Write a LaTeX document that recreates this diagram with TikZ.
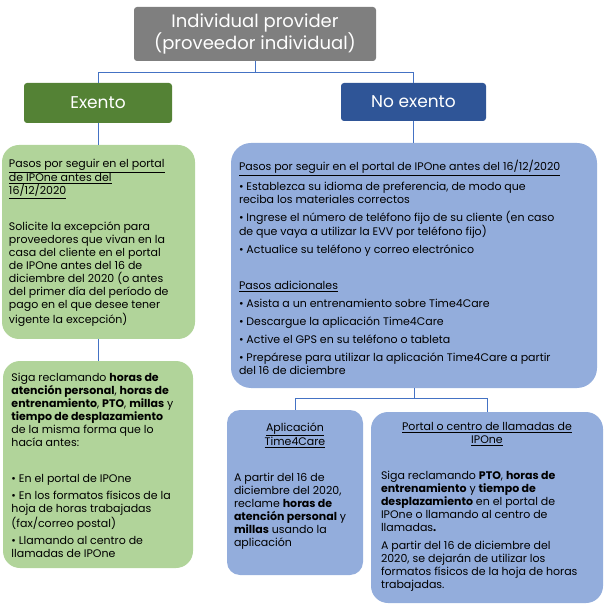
\documentclass[tikz,border=0pt]{standalone}
\usepackage{fontspec}
\setmainfont{Poppins}
\usepackage{xcolor}
\usepackage{tikz}
\definecolor{gris}{HTML}{7F7F7F}
\definecolor{verdeosc}{HTML}{548235}
\definecolor{azulosc}{HTML}{2F5597}
\definecolor{verdeclaro}{HTML}{B1D49A}
\definecolor{azulclaro}{HTML}{93ADDC}
\definecolor{lineas}{HTML}{4472C4}

\begin{document}
\begin{tikzpicture}[
    x=1pt, y=-1pt,
    every node/.style={inner sep=0pt, outer sep=0pt}
  ]
  \tikzset{
    cabeza/.style={fill=gris, text=white, rounded corners=3pt, align=center,
      minimum width=242pt, minimum height=54pt, font=\fontsize{18}{22}\selectfont},
    rama/.style={text=white, rounded corners=3pt, font=\fontsize{17}{20}\selectfont},
    caja/.style={anchor=north west, rounded corners=17pt, inner xsep=7pt, inner ysep=14pt,
      font=\fontsize{11}{13}\selectfont},
    verde/.style={fill=verdeclaro},
    azul/.style={fill=azulclaro},
    linea/.style={draw=lineas, line width=0.9pt}
  }
  \useasboundingbox (0,0) rectangle (610,609);

  % cabeza y ramas
  \node[cabeza] (proveedor) at (255,34) {Individual provider\\(proveedor individual)};
  \node[rama, fill=verdeosc, minimum width=148pt, minimum height=40pt] (exento) at (98,103) {Exento};
  \node[rama, fill=azulosc, minimum width=145pt, minimum height=38pt] (noexento) at (413.5,102) {No exento};

  % exento
  \node[caja, verde, inner ysep=14.5pt] (pasosex) at (2,145) {\parbox[c][165pt][t]{179pt}{%
    \underline{Pasos por seguir en el portal}\\
    \underline{de IPOne antes del}\\
    \underline{16/12/2020}\\[23pt]
    Solicite la excepción para\\
    proveedores que vivan en la\\
    casa del cliente en el portal\\
    de IPOne antes del 16 de\\
    diciembre del 2020 (o antes\\
    del primer día del período de\\
    pago en el que desee tener\\
    vigente la excepción)}};
  \node[caja, verde, inner xsep=8.5pt, inner ysep=12.5pt] (sigaex) at (3,361) {\parbox[c][182pt][t]{173pt}{%
    Siga reclamando \textbf{horas de}\\
    \textbf{atención personal}, \textbf{horas de}\\
    \textbf{entrenamiento}, \textbf{PTO}, \textbf{millas} y\\
    \textbf{tiempo de desplazamiento}\\
    de la misma forma que lo\\
    hacía antes:\\[23pt]
    \textbullet{} En el portal de IPOne\\[4pt]
    \textbullet{} En los formatos físicos de la\\
    hoja de horas trabajadas\\
    (fax/correo postal)\\[4pt]
    \textbullet{} Llamando al centro de\\
    llamadas de IPOne}};

  % no exento
  \node[caja, azul, rounded corners=20pt, inner xsep=8pt, inner ysep=17.5pt] (pasosno) at (231,143) {\parbox[c][210pt][t]{350pt}{%
    \underline{Pasos por seguir en el portal de IPOne antes del 16/12/2020}\\[5pt]
    \textbullet{} Establezca su idioma de preferencia, de modo que\\
    reciba los materiales correctos\\[5pt]
    \textbullet{} Ingrese el número de teléfono fijo de su cliente (en caso\\
    de que vaya a utilizar la EVV por teléfono fijo)\\[5pt]
    \textbullet{} Actualice su teléfono y correo electrónico\\[23pt]
    \underline{Pasos adicionales}\\[5pt]
    \textbullet{} Asista a un entrenamiento sobre Time4Care\\[5pt]
    \textbullet{} Descargue la aplicación Time4Care\\[5pt]
    \textbullet{} Active el GPS en su teléfono o tableta\\[5pt]
    \textbullet{} Prepárese para utilizar la aplicación Time4Care a partir\\
    del 16 de diciembre}};
  \node[caja, azul, rounded corners=13pt, inner ysep=12.5pt] (app) at (227,410) {\parbox[c][140pt][t]{122pt}{%
    {\centering\underline{Aplicación}\\
    \underline{Time4Care}\par}\vspace{23pt}
    A partir del 16 de\\
    diciembre del 2020,\\
    reclame \textbf{horas de}\\
    \textbf{atención personal} y\\
    \textbf{millas} usando la\\
    aplicación}};
  \node[caja, azul, inner xsep=10pt, inner ysep=10.5pt] (portal) at (371,412) {\parbox[c][170pt][t]{212pt}{%
    {\centering\underline{Portal o centro de llamadas de}\\
    \underline{IPOne}\par}\vspace{23pt}
    Siga reclamando \textbf{PTO}, \textbf{horas de}\\
    \textbf{entrenamiento} y \textbf{tiempo de}\\
    \textbf{desplazamiento} en el portal de\\
    IPOne o llamando al centro de\\
    llamadas\textbf{.}\\[5pt]
    A partir del 16 de diciembre del\\
    2020, se dejarán de utilizar los\\
    formatos físicos de la hoja de horas\\
    trabajadas.}};

  % conectores
  \draw[linea] (proveedor.south) -- ++(0,11) -| (exento.north);
  \draw[linea] (proveedor.south) -- ++(0,11) -| (noexento.north);
  \draw[linea] (exento.south) -- (exento.south |- pasosex.north);
  \draw[linea] (pasosex.south) -- (pasosex.south |- sigaex.north);
  \draw[linea] (noexento.south) -- (noexento.south |- pasosno.north);
  \draw[linea] (pasosno.south) -- ++(0,10) -| (app.north);
  \draw[linea] (pasosno.south) -- ++(0,10) -| (portal.north);
\end{tikzpicture}
\end{document}
